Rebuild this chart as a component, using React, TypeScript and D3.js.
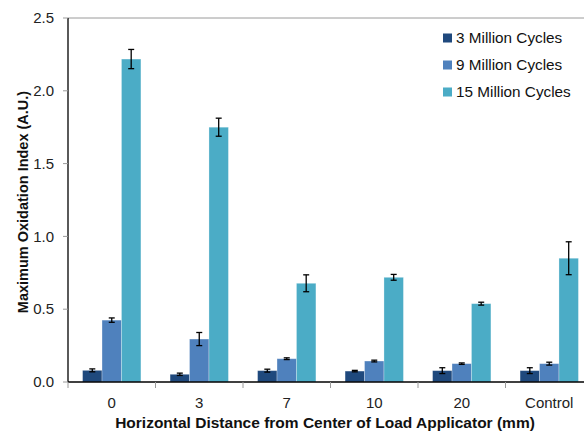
import React from "react";
import * as d3 from "d3";

const categories = ["0", "3", "7", "10", "20", "Control"];
const seriesNames = ["3 Million Cycles", "9 Million Cycles", "15 Million Cycles"];
const seriesColors = ["#1F497D", "#4F81BD", "#4BACC6"];
const values3M = [0.08, 0.053, 0.078, 0.075, 0.078, 0.078];
const errors3M = [0.01, 0.008, 0.01, 0.005, 0.02, 0.02];
const values9M = [0.425, 0.295, 0.16, 0.144, 0.126, 0.126];
const errors9M = [0.015, 0.045, 0.006, 0.006, 0.005, 0.01];
const values15M = [2.218, 1.75, 0.678, 0.719, 0.538, 0.85];
const errors15M = [0.066, 0.062, 0.058, 0.02, 0.01, 0.113];
const yTicks = [0, 0.5, 1.0, 1.5, 2.0, 2.5];

const W = 584;
const H = 432;
const margin = { left: 68, right: -9, top: 18, bottom: 50 };

export default function App() {
  const series = [
    { name: seriesNames[0], color: seriesColors[0], vals: values3M, errs: errors3M },
    { name: seriesNames[1], color: seriesColors[1], vals: values9M, errs: errors9M },
    { name: seriesNames[2], color: seriesColors[2], vals: values15M, errs: errors15M },
  ];
  const x0 = d3
    .scaleBand<string>()
    .domain(categories)
    .range([margin.left, W - margin.right])
    .paddingInner(1 / 3)
    .paddingOuter(1 / 6);
  const x1 = d3
    .scaleBand<string>()
    .domain(seriesNames)
    .range([0, x0.bandwidth()]);
  const y = d3.scaleLinear().domain([0, 2.5]).range([H - margin.bottom, margin.top]);
  const step = x0.step();
  const x0Start = margin.left;
  const boundaries = d3.range(categories.length + 1).map((i) => x0Start + i * step);
  const font = "'Liberation Sans', Arial, sans-serif";
  const y0 = y(0);

  return (
    <svg width={W} height={H} style={{ position: "absolute", left: 0, top: 0, background: "#fff" }}>
      {/* top gridline */}
      <line x1={margin.left} x2={W} y1={y(2.5)} y2={y(2.5)} stroke="#9a9a9a" strokeWidth={1} />
      {/* bars */}
      {series.map((s) =>
        categories.map((c, i) => {
          const bx = (x0(c) as number) + (x1(s.name) as number);
          const bw = x1.bandwidth();
          const top = y(s.vals[i]);
          return (
            <rect
              key={s.name + c}
              x={bx}
              y={top}
              width={bw}
              height={y0 - top}
              fill={s.color}
              stroke="#ffffff"
              strokeOpacity={0.35}
              strokeWidth={0.8}
            />
          );
        })
      )}
      {/* error bars */}
      {series.map((s) =>
        categories.map((c, i) => {
          const cx = (x0(c) as number) + (x1(s.name) as number) + x1.bandwidth() / 2;
          const hi = y(s.vals[i] + s.errs[i]);
          const lo = y(s.vals[i] - s.errs[i]);
          return (
            <g key={"e" + s.name + c} stroke="#000" strokeWidth={1.3}>
              <line x1={cx} x2={cx} y1={hi} y2={lo} />
              <line x1={cx - 3} x2={cx + 3} y1={hi} y2={hi} />
              <line x1={cx - 3} x2={cx + 3} y1={lo} y2={lo} />
            </g>
          );
        })
      )}
      {/* y axis */}
      <line x1={margin.left} x2={margin.left} y1={y(2.5)} y2={y0} stroke="#000" strokeWidth={1.3} />
      {yTicks.map((t) => (
        <g key={"yt" + t}>
          <line x1={margin.left - 5} x2={margin.left} y1={y(t)} y2={y(t)} stroke="#9a9a9a" />
          <text
            x={margin.left - 14}
            y={y(t)}
            dy="0.35em"
            textAnchor="end"
            fontFamily={font}
            fontSize={15}
            fill="#222"
          >
            {d3.format(".1f")(t)}
          </text>
        </g>
      ))}
      {/* x axis */}
      <line x1={margin.left} x2={W} y1={y0} y2={y0} stroke="#000" strokeWidth={1.3} />
      {boundaries.map((b, i) => (
        <line key={"xt" + i} x1={b} x2={b} y1={y0} y2={y0 + 6} stroke="#9a9a9a" />
      ))}
      {categories.map((c) => (
        <text
          key={"xl" + c}
          x={(x0(c) as number) + x0.bandwidth() / 2}
          y={y0 + 26}
          textAnchor="middle"
          fontFamily={font}
          fontSize={15}
          fill="#222"
        >
          {c}
        </text>
      ))}
      {/* axis titles */}
      <text
        x={325}
        y={428}
        textAnchor="middle"
        fontFamily={font}
        fontSize={15.5}
        fontWeight="bold"
        fill="#111"
      >
        Horizontal Distance from Center of Load Applicator (mm)
      </text>
      <text
        transform={`translate(28,${(y(2.5) + y0) / 2 + 2}) rotate(-90)`}
        textAnchor="middle"
        fontFamily={font}
        fontSize={14.5}
        fontWeight="bold"
        fill="#111"
      >
        Maximum Oxidation Index (A.U.)
      </text>
      {/* legend */}
      {series.map((s, i) => (
        <g key={"lg" + s.name} transform={`translate(443,${38 + i * 27})`}>
          <rect x={0} y={-4.5} width={9} height={9} fill={s.color} />
          <text x={13} y={0} dy="0.35em" fontFamily={font} fontSize={15.3} fill="#111">
            {s.name}
          </text>
        </g>
      ))}
    </svg>
  );
}
